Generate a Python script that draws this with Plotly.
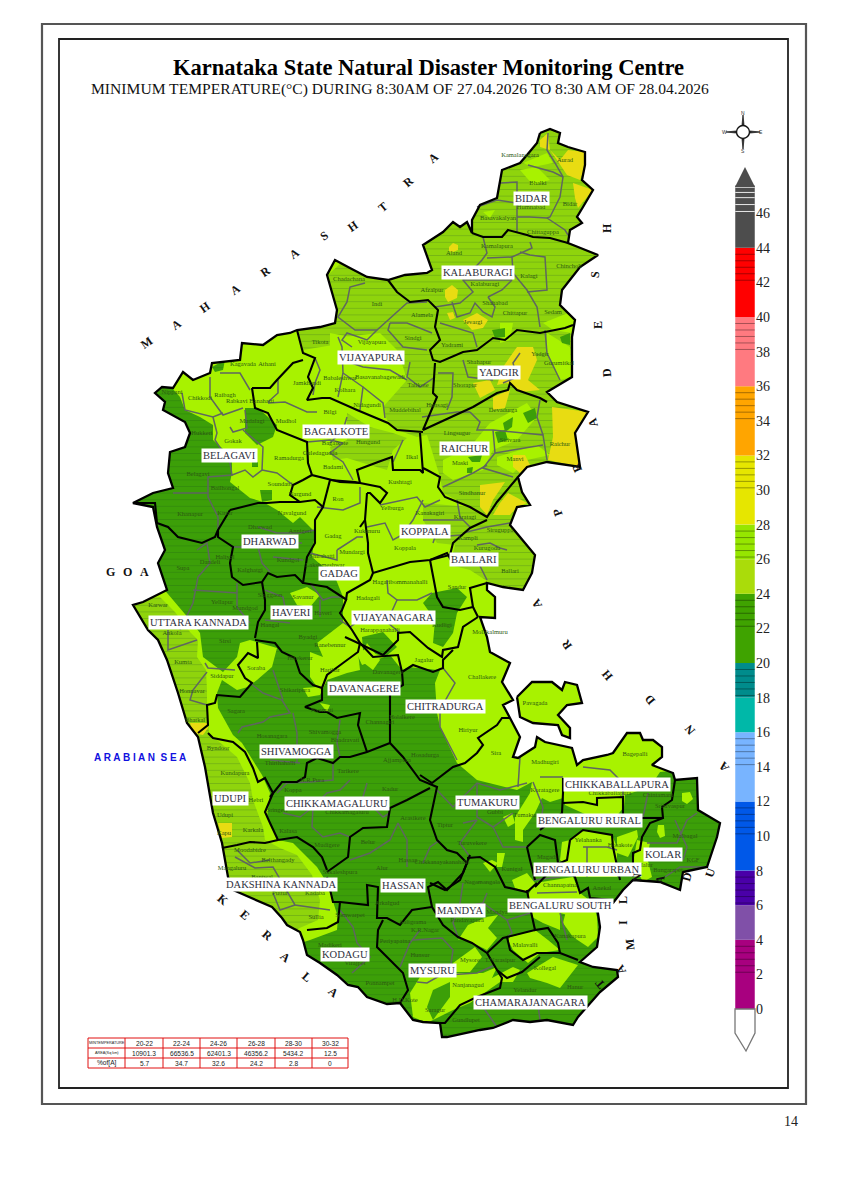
"""
Karnataka minimum temperature map, page 14 of the KSNDMC bulletin.
Outlines are digitised in page pixels, so the main axes run over the page.
"""

import plotly.graph_objects as go

SERIF = "Liberation Serif"
SANS = "Liberation Sans"

LIME = "#a8f200"
HATCH_GREEN = "#8fd40c"
DARK_GREEN = "#3c9f08"
YELLOW = "#e8dc12"

state_outline = [
    (540,133),(550,129),(560,133),(558,143),(568,147),(585,152),(585,165),(582,180),(593,190),(583,207),
    (577,217),(582,223),(570,230),(568,243),(578,247),(598,255),(580,267),(562,290),(560,305),(575,320),
    (572,337),(572,377),(547,392),(557,402),(588,412),(575,433),(580,467),(547,462),(527,467),(518,477),
    (522,492),(530,505),(517,507),(510,525),(520,537),(535,555),(532,573),(523,590),(503,587),(487,583),
    (487,590),(495,597),(495,618),(480,617),(487,637),(490,652),(510,663),(502,682),(513,700),(503,705),
    (510,718),(520,737),(513,757),(518,758),(535,747),(537,737),(545,742),(572,748),(577,765),(583,760),
    (607,755),(613,753),(627,733),(640,733),(643,740),(653,740),(662,747),(662,757),(652,765),(673,773),
    (675,780),(697,778),(698,810),(720,823),(717,837),(707,867),(683,872),(680,890),(660,882),(633,880),
    (623,890),(613,903),(597,907),(600,927),(597,947),(580,962),(593,967),(617,970),(618,977),(600,992),
    (578,1017),(573,1025),(547,1020),(530,1022),(513,1020),(493,1028),(480,1030),(447,1037),(442,1037),(440,1023),
    (423,1022),(413,1020),(400,1003),(387,1004),(367,997),(358,987),(348,985),(337,975),(320,963),(307,955),
    (303,940),(300,932),(287,925),(282,918),(272,907),(233,890),(228,877),(222,843),(213,813),(205,767),
    (198,737),(187,723),(178,693),(167,660),(158,640),(148,630),(133,605),(143,602),(167,590),(158,563),
    (165,550),(157,527),(153,507),(133,503),(153,493),(173,488),(168,473),(170,452),(185,447),(190,433),
    (185,422),(163,410),(165,402),(155,393),(162,387),(173,388),(183,372),(193,380),(210,373),(212,363),
    (240,360),(242,343),(263,345),(277,335),(290,333),(297,330),(320,327),(335,323),(337,310),(327,275),
    (335,260),(348,267),(367,277),(388,280),(405,275),(427,273),(432,270),(423,245),(443,232),(453,222),
    (460,227),(467,222),(472,233),(472,220),(480,205),(497,198),(502,170),(520,163),(527,155),(537,143),
]
pavagada_outline = [
    (517,697),(532,682),(552,682),(562,690),(565,682),(577,685),(582,703),(567,705),(558,715),(570,728),
    (570,738),(562,735),(558,725),(533,723),(520,717),
]

# 22-24 band, running off the state edge where the mask trims it
dark_main = [
    (100,380),(163,387),(172,388),(180,397),(185,410),(200,417),(213,425),(213,440),(232,457),(232,473),
    (230,482),(250,498),(263,502),(277,510),(293,523),(300,517),(315,532),(312,557),(335,577),(343,597),
    (343,623),(362,665),(390,655),(402,670),(410,667),(440,670),(435,683),(437,713),(440,727),(457,763),
    (477,780),(517,790),(532,782),(563,795),(565,805),(587,815),(615,818),(624,807),(625,795),(650,787),
    (660,772),(680,770),(730,770),(730,1040),(140,1040),(100,620),
]
dark_patches = [
    [(432,593),(457,588),(467,597),(457,613),(453,633),(443,647),(433,643),(435,620),(423,603)],
    [(362,637),(383,632),(397,647),(385,657),(363,650)],
    [(245,408),(258,408),(277,425),(273,437),(257,445),(245,433)],
    [(260,490),(272,490),(272,500),(262,502)],
    [(252,462),(258,462),(258,467),(252,467)],
    [(212,367),(225,360),(223,370),(215,372)],
]
# 26-28 band
hatch_north = [
    (298,330),(303,350),(333,345),(343,337),(380,333),(397,350),(403,367),(407,380),(383,407),(387,420),
    (397,430),(417,437),(427,435),(440,477),(443,493),(470,507),(423,503),(423,520),(437,543),(455,545),
    (450,565),(470,570),(490,583),(530,595),(560,560),(600,450),(620,120),(500,120),(300,300),
]
hatch_hungund = [
    (347,413),(370,427),(393,433),(407,438),(393,450),(387,470),(363,463),(347,458),(333,460),(330,447),(347,440),
]
lime_coast = [
    (100,590),(162,587),(190,620),(200,633),(203,657),(223,672),(237,657),(240,643),(250,640),(277,648),
    (272,667),(257,680),(248,687),(237,690),(222,680),(217,693),(218,708),(233,735),(242,743),(257,767),
    (262,775),(270,793),(267,817),(278,840),(293,843),(317,867),(327,883),(338,917),(337,930),(310,940),
    (295,945),(260,960),(100,900),
]
hatch_coast = [
    (100,600),(160,597),(175,612),(190,632),(198,640),(197,657),(206,670),(207,690),(207,707),(209,733),
    (217,740),(237,757),(250,783),(253,800),(263,827),(265,840),(280,848),(297,855),(312,875),(320,900),
    (318,920),(295,930),(270,930),(180,900),(100,800),
]
# 24-26 band lying over the darker zones
lime_patches = [
    [(290,593),(307,587),(320,595),(310,607),(297,605)],
    [(343,623),(317,643),(323,657),(310,652),(310,677),(317,687),(303,688),(308,697),(320,695),(327,680),
     (347,673),(360,670),(358,652),(360,637),(347,620),(350,600)],
    [(367,643),(380,660),(373,670),(360,660)],
    [(400,637),(410,633),(440,657),(440,670),(410,667),(402,657)],
    [(320,703),(330,705),(327,712)],
    [(503,817),(512,813),(515,823),(508,827)],
    [(532,782),(563,788),(563,798),(550,802),(542,798),(535,813),(523,830),(523,842),(515,840),(515,817),(530,793)],
    [(562,842),(570,840),(583,830),(612,835),(617,847),(617,877),(573,877),(573,870),(560,860)],
    [(535,883),(573,877),(580,893),(593,903),(597,917),(587,920),(560,913),(560,930),(543,923),(532,917),(527,897)],
    [(567,907),(597,917),(598,937),(588,947),(573,937),(563,923)],
    [(512,880),(527,873),(535,883),(527,892),(515,888)],
    [(483,863),(492,860),(498,863),(490,872)],
    [(497,853),(505,853),(502,867),(497,867)],
    [(458,940),(468,925),(487,917),(498,915),(488,928),(497,938),(487,950),(473,943),(462,938)],
    [(510,937),(535,930),(548,940),(560,950),(540,953),(528,963),(513,950),(508,940)],
    [(527,973),(553,957),(578,965),(560,988),(547,983),(530,978)],
    [(410,993),(420,977),(453,973),(483,973),(497,967),(492,978),(513,967),(520,970),(513,982),(500,982),
     (470,1003),(453,1010),(427,1023),(413,1017)],
    [(453,963),(475,947),(482,957),(470,972),(455,972)],
    [(637,840),(650,843),(647,857),(652,877),(643,882),(633,863)],
    [(617,837),(637,830),(638,837),(628,857),(617,853)],
    [(682,793),(690,792),(693,799),(687,804),(682,801)],
    [(658,825),(664,825),(665,836),(660,838),(657,832)],
    # northern pockets
    [(443,460),(470,447),(490,423),(527,403),(537,417),(517,440),(493,450),(483,470),(453,480),(443,473)],
    [(497,457),(537,445),(550,455),(527,460),(513,473),(497,465)],
    [(500,323),(513,323),(510,340),(500,343)],
    [(543,323),(568,313),(575,320),(572,333),(553,330)],
    [(547,333),(570,347),(572,377),(560,380),(547,353)],
    [(520,170),(537,167),(550,180),(533,185)],
    [(523,163),(547,153),(553,163),(533,167)],
    [(330,333),(350,337),(340,353),(330,350)],
    [(483,212),(495,210),(490,218)],
]
dark_late = [
    [(427,1007),(433,990),(450,982),(450,997),(433,1020)],
    [(503,423),(513,417),(512,427),(505,432)],
    [(523,413),(535,408),(537,418),(528,423)],
    [(495,432),(505,430),(508,440),(498,443)],
    [(468,457),(482,455),(480,462),(472,462)],
    [(467,468),(473,467),(472,473),(467,473)],
    [(492,330),(505,328),(505,337),(495,338)],
    [(560,337),(570,333),(570,345),(562,343)],
]
yellow_patches = [
    [(190,723),(207,723),(208,728),(203,735),(193,733)],
    [(218,823),(232,823),(232,837),(222,838)],
    [(540,140),(548,133),(550,150),(560,160),(568,150),(585,152),(585,167),(580,180),(567,175),(557,160),(550,150),(540,147)],
    [(573,183),(593,190),(578,208),(575,198)],
    [(449,247),(453,243),(458,245),(458,250),(453,252),(449,251)],
    [(445,290),(452,285),(458,290),(457,298),(448,302),(445,297)],
    [(447,313),(453,312),(455,318),(450,320)],
    [(463,320),(477,313),(488,320),(483,328),(472,330)],
    [(503,367),(517,347),(533,347),(537,360),(528,380),(540,390),(520,392),(507,383),(497,385)],
    [(473,383),(490,380),(495,390),(480,398)],
    [(493,397),(510,390),(505,408),(493,410)],
    [(552,407),(588,412),(575,433),(580,467),(548,460),(553,437)],
    [(513,455),(525,455),(530,465),(520,473),(513,467)],
    [(480,485),(505,482),(493,500),(487,515),(480,507)],
    [(508,493),(527,503),(517,507),(510,515),(493,515),(500,503)],
]

district_borders = [
    [(472,233),(483,237),(502,237),(508,230),(527,235),(533,237),(550,238),(568,243)],
    [(388,280),(397,292),(410,302),(428,300),(438,310),(435,327),(440,340),(430,350),(433,360),(440,362),
     (463,352),(477,350),(493,338),(505,340),(517,330),(540,333),(565,328),(573,325)],
    [(435,363),(433,393),(437,397),(423,430),(473,407),(497,393),(508,390),(510,383),(517,390),(540,398),(547,402)],
    [(297,330),(303,353),(315,358),(308,377),(313,388),(307,400),(322,398),(330,398),(357,410),(388,423),(397,430),(423,432)],
    [(252,388),(270,388),(277,380),(293,363),(303,360)],
    [(252,388),(255,408),(268,413),(277,430),(307,442),(308,463),(312,475),(340,482),(360,483),(357,470),
     (378,462),(392,457),(393,470),(420,470),(423,473),(420,433)],
    [(423,468),(427,470),(440,477),(438,487),(445,497),(470,507),(487,517),(497,502),(518,477)],
    [(487,520),(470,528),(453,543),(450,555),(430,560),(410,562),(373,573),(368,553),(368,543),(365,520),(367,493)],
    [(330,480),(355,482),(380,487),(387,493),(380,503),(370,493),(367,493)],
    [(360,527),(365,520)],
    [(430,560),(447,553),(452,562),(463,562),(455,555),(450,555)],
    [(312,475),(303,480),(293,485),(290,495),(300,502)],
    [(230,510),(258,503),(267,503),(280,502),(300,502),(315,500),(323,507),(315,520),(315,543),(307,557),
     (303,583),(327,587),(347,600)],
    [(323,507),(330,480)],
    [(230,510),(218,530),(218,537),(233,547),(230,563),(232,577),(243,585),(262,582),(268,573),(277,577),(295,575),(303,583)],
    [(133,503),(155,503),(157,523),(168,527),(178,537),(202,543),(215,537),(218,530)],
    [(262,582),(265,600),(265,610),(258,622),(255,638)],
    [(255,640),(275,643),(282,652),(295,658),(300,673),(313,685),(322,688)],
    [(257,642),(258,658),(248,653),(238,665),(245,678),(252,683),(240,697),(217,695),(215,703),(207,705),(208,725),(198,733)],
    [(208,733),(213,738),(233,742),(245,752),(253,768),(258,782),(265,778),(273,793)],
    [(270,797),(282,782),(297,782),(305,777),(307,763),(317,758),(333,763),(340,757),(350,757),(367,752),(390,743)],
    [(273,793),(265,812),(270,823),(278,840)],
    [(222,848),(237,845),(250,842),(265,843),(278,840)],
    [(278,840),(297,837),(313,847),(322,857),(327,870)],
    [(327,872),(348,857),(350,837),(363,828),(387,827),(390,808),(407,800),(430,788)],
    [(327,877),(333,902),(340,902),(368,905),(367,885),(378,887),(377,918),(383,918)],
    [(340,902),(338,922),(327,928),(307,930)],
    [(383,920),(378,930),(377,947),(387,957),(403,973),(408,990),(400,1003)],
    [(377,918),(387,918),(400,925),(412,910),(432,907),(428,887),(438,882),(447,890),(463,873),(470,855)],
    [(420,775),(432,783),(453,767),(465,763),(477,753),(483,745),(478,738),(497,725),(502,718),(510,718)],
    [(390,743),(403,757),(420,780),(437,787),(430,820),(437,840),(447,850),(457,853),(467,863),(460,880),(445,890),(430,883)],
    [(467,858),(480,857),(495,867),(505,887),(527,892),(537,883)],
    [(527,847),(530,860),(535,880)],
    [(527,847),(540,835),(555,840),(558,863),(535,887)],
    [(478,617),(463,627),(458,647),(443,650),(442,657),(428,648),(410,632),(398,633),(398,640),(383,655),(358,643),(345,637)],
    [(430,560),(437,597),(443,607),(460,610),(473,607),(470,588),(487,583)],
    [(473,607),(478,617)],
    [(373,573),(370,580),(347,593),(346,600),(342,610),(340,613),(352,630),(360,643),(358,652),(343,663),(327,675),(322,688)],
    [(360,643),(373,657),(398,655),(402,672),(403,685),(390,693),(390,743)],
    [(402,672),(413,665),(433,672),(443,668),(443,660),(453,650)],
    [(322,688),(322,700),(305,707),(320,712),(327,712),(337,718),(360,713),(358,725),(367,752)],
    [(563,778),(563,793),(562,813),(540,830)],
    [(563,803),(583,802),(597,805),(597,798),(623,797),(623,817),(640,818),(663,818)],
    [(675,780),(672,800),(662,807),(663,818),(650,823),(642,837),(640,850),(633,853),(633,877)],
    [(570,840),(583,830),(612,835),(613,847),(620,880)],
    [(570,840),(567,860),(560,863),(575,877),(580,893),(588,888),(590,898),(613,900)],
    [(527,890),(530,907),(535,930),(548,928),(558,943),(560,953),(578,960)],
    [(432,907),(443,925),(458,937),(472,943),(487,953),(503,938),(507,937),(510,950),(523,960),(537,953),(560,953)],
    [(535,930),(507,937)],
    [(487,953),(497,970),(502,978),(500,988),(477,997),(460,1005),(445,1023),(440,1023)],
    [(497,970),(507,978),(522,972),(540,957)],
]

taluk_borders = [
    [(548,133),(547,150),(555,163),(563,177),(560,197),(550,217),(547,218),(565,230),(568,235)],
    [(528,165),(553,172),(563,177)],
    [(500,183),(517,182),(517,197),(517,232)],
    [(517,217),(530,217),(547,218)],
    [(477,207),(497,200),(517,203)],
    [(483,237),(487,253),(482,260),(463,280),(473,292),(460,303),(435,307)],
    [(530,242),(532,248),(512,257),(513,273),(527,290),(537,307),(540,327)],
    [(487,258),(512,257)],
    [(520,252),(530,255),(545,257),(547,290),(527,292)],
    [(463,280),(512,280)],
    [(488,297),(502,290),(512,280)],
    [(488,297),(495,307),(492,317),(483,312),(475,303),(470,313),(457,317),(452,302)],
    [(440,323),(473,333),(477,347)],
    [(365,283),(350,287),(347,302),(338,317),(355,330),(377,330),(407,303),(427,302)],
    [(390,323),(388,330),(403,347),(427,350)],
    [(390,323),(407,323),(432,333)],
    [(377,330),(367,340),(347,333),(342,340),(352,347)],
    [(410,362),(407,377),(420,387),(435,377)],
    [(463,360),(468,377),(493,380)],
    [(438,373),(453,373),(452,397),(447,410)],
    [(520,353),(513,363),(517,377),(503,383)],
    [(545,330),(547,353),(560,380)],
    [(315,358),(320,370),(315,383),(313,395)],
    [(338,337),(342,347),(343,373),(338,397)],
    [(343,373),(363,387),(360,410)],
    [(363,387),(383,403),(385,418)],
    [(343,360),(363,367),(390,370),(407,380)],
    [(268,403),(285,402),(307,412),(317,412)],
    [(307,442),(330,440),(343,443),(330,453),(343,462),(353,480)],
    [(347,417),(343,430),(330,443)],
    [(403,440),(393,462)],
    [(210,377),(210,397),(223,415),(243,408)],
    [(182,393),(185,410),(213,417),(223,413)],
    [(213,417),(217,433),(215,440),(230,463),(232,475),(208,477),(208,497),(218,517),(218,530)],
    [(173,493),(208,493)],
    [(230,427),(233,432),(247,428),(245,410)],
    [(243,430),(263,447),(262,470),(253,477),(245,470),(232,475)],
    [(262,470),(277,473),(293,485)],
    [(250,390),(240,373),(220,373)],
    [(278,380),(278,393),(268,402)],
    [(317,507),(343,510),(360,503),(360,487)],
    [(337,550),(357,537),(363,537)],
    [(337,550),(337,560),(310,553)],
    [(258,527),(277,533),(300,533),(315,530)],
    [(258,547),(262,563),(270,572)],
    [(233,547),(258,547),(277,543),(302,543)],
    [(273,557),(303,560)],
    [(197,550),(207,543),(210,563),(198,577),(193,603),(180,630)],
    [(237,583),(237,607),(250,623)],
    [(193,590),(237,593)],
    [(265,590),(283,597),(287,617)],
    [(265,620),(290,623)],
    [(310,583),(323,600),(332,597),(343,597)],
    [(320,600),(320,617)],
    [(168,630),(168,650),(197,640)],
    [(205,663),(208,668),(235,670)],
    [(207,672),(193,690),(190,700),(207,705)],
    [(250,683),(263,693),(282,700),(290,713),(270,717),(263,722),(242,727),(238,733)],
    [(273,670),(283,700)],
    [(293,713),(297,733),(297,763)],
    [(270,760),(300,763)],
    [(340,720),(337,743),(340,757)],
    [(333,763),(333,780),(310,782),(287,783),(277,793)],
    [(350,780),(340,790),(327,793),(313,807),(312,827),(323,837),(340,833),(350,837)],
    [(367,783),(363,797),(383,817),(390,813)],
    [(283,813),(300,817),(313,807)],
    [(350,860),(370,853),(390,840),(398,823),(407,840),(407,867)],
    [(423,863),(430,847),(440,840)],
    [(237,850),(250,863),(270,860)],
    [(235,857),(255,868),(273,867),(295,905),(330,910)],
    [(295,905),(280,910),(273,893)],
    [(340,910),(353,927),(357,943),(370,957),(352,973)],
    [(420,930),(410,943),(400,967)],
    [(413,940),(442,938),(453,950),(450,970),(427,983),(417,982)],
    [(447,975),(477,973),(495,965)],
    [(483,1007),(497,1027)],
    [(537,997),(540,1020)],
    [(463,883),(460,903),(453,923),(458,937)],
    [(487,893),(483,903),(507,920),(530,913)],
    [(483,903),(463,907)],
    [(507,920),(512,933),(507,937)],
    [(437,790),(453,807),(477,783),(500,790),(527,783)],
    [(477,783),(477,817),(493,827),(513,813)],
    [(463,823),(477,820),(460,843),(470,857)],
    [(493,827),(503,847),(527,847)],
    [(540,777),(563,777)],
    [(533,782),(543,807),(540,830)],
    [(520,757),(518,787)],
    [(583,767),(610,770),(623,783),(623,797)],
    [(648,793),(643,817)],
    [(675,820),(687,847),(683,860)],
    [(647,843),(677,843),(687,820),(697,813)],
    [(665,877),(680,867),(707,867)],
    [(583,847),(607,847),(617,850)],
    [(587,847),(587,877)],
    [(533,880),(560,877)],
    [(537,893),(577,892)],
    [(560,913),(567,940)],
    [(443,668),(455,683),(440,710),(440,727),(457,760)],
    [(420,713),(440,710)],
    [(463,533),(487,527),(510,523)],
    [(477,545),(490,543),(500,548),(507,550)],
    [(477,560),(487,580)],
    [(387,580),(388,593),(397,600),(387,622),(400,633)],
    [(397,600),(417,600),(432,593)],
    [(340,620),(350,627),(360,620),(387,622)],
    [(367,527),(385,523),(393,540),(402,535),(413,520),(423,500)],
    [(380,505),(417,497),(425,507),(440,500)],
    [(457,500),(460,517),(470,527)],
    [(423,520),(463,520)],
    [(433,543),(435,537),(462,535)],
    [(470,412),(480,422),(477,430),(493,430),(543,435),(547,460)],
    [(540,400),(537,417),(543,435)],
    [(493,430),(495,453),(483,468),(513,477)],
    [(495,453),(543,445)],
    [(443,487),(473,473),(487,465)],
    [(422,417),(457,412),(470,412)],
]

district_names = [
    "BIDAR","KALABURAGI","VIJAYAPURA","YADGIR","BAGALKOTE","RAICHUR","BELAGAVI","KOPPALA","BALLARI",
    "DHARWAD","GADAG","HAVERI","VIJAYANAGARA","UTTARA KANNADA","DAVANAGERE","CHITRADURGA","SHIVAMOGGA",
    "UDUPI","CHIKKAMAGALURU","TUMAKURU","CHIKKABALLAPURA","BENGALURU RURAL","KOLAR","BENGALURU URBAN",
    "DAKSHINA KANNADA","HASSAN","MANDYA","BENGALURU SOUTH","KODAGU","MYSURU","CHAMARAJANAGARA",
]
district_x = [531,478,371,499,336,464,229,425,474,270,339,291,393,198,364,445,296,230,337,487,617,589,663,587,281,403,460,560,345,432,530]
district_y = [198,272,357,372,431,448,455,531,559,541,573,612,617,622,688,706,751,798,803,802,784,820,854,869,884,885,910,905,954,970,1002]

taluk_names = [
    "Aurad","Kamalanagara","Bhalki","Bidar","Humnabad","Basavakalyan","Chittaguppa","Aland","Kamalapura","Kalagi",
    "Chincholi","Afzalpur","Kalaburagi","Shahabad","Chittapur","Sedam","Jevargi","Yadrami","Chadachana","Indi",
    "Alamela","Sindgi","Vijayapura","Babaleshwar","Basavanabagewadi","Talikote","Kolhara","Nidagundi","Muddebihal","Tikota",
    "Shahapur","Shorapur","Yadgir","Gurumitkal","Hunsagi","Devadurga","Raichur","Lingsugur","Sirivara","Maski",
    "Manvi","Kushtagi","Sindhanur","Yelburga","Kukanuru","Koppala","Kanakagiri","Karatagi","Kampli","Siruguppa",
    "Kurugodu","Ballari","Sandur","Kudligi","Hagaribommanahalli","Hadagali","Harappanahalli","Jagalur","Challakere","Molakalmuru",
    "Hiriyur","Sira","Pavagada","Madhugiri","Bagepalli","Koratagere","Tumakuru","Gubbi","Tiptur","Turuvekere",
    "Chikkanayakanahalli","Holalkere","Hosadurga","Channagiri","Davanagere","Harihar","Ranebennur","Byadgi","Hirekerur","Hangal",
    "Haveri","Savanur","Shiggaon","Kalghatgi","Kundgol","Dharwad","Annigeri","Navalgund","Haliyal","Khanapur",
    "Belagavi","Bailhongal","Kittur","Supa","Dandeli","Yellapur","Mundgod","Karwar","Ankola","Kumta",
    "Honnavar","Bhatkal","Siddapur","Sirsi","Soraba","Shikaripura","Sagara","Hosanagara","Shivamogga","Bhadravati",
    "Thirthahalli","Nyamati","Byndoor","Kundapura","Hebri","Udupi","Karkala","Kapu","Moodabidre","Mangaluru",
    "Belthangady","Bantwal","Puttur","Kadaba","Sullia","Sakaleshpura","Alur","Mudigere","Belur","Kalasa",
    "Koppa","Sringeri","Tarikere","Kadur","Chikkamagaluru","Arasikere","Hassan","Arkalgud","Ajjampura","N.R.Pura",
    "Somwarpet","Madikeri","Virajpet","Ponnampet","Periyapatna","Hunsur","K.R.Nagar","Saligrama","Mysore","H.D.Kote",
    "Saragur","Nanjanagud","T.Narasipur","Gundlupet","Yelandur","Kollegal","Hanur","Malavalli","Kanakapura","Mandya",
    "Pandavapura","Nagamangala","Kunigal","Magadi","Yelahanka","Hosakote","Anekal","Channapatna","Malur","Bangarapet",
    "KGF","Mulbagal","Srinivaspur","Chintamani","Chikkaballapura","Nippani","Chikkodi","Raibagh","Kagavada","Athani",
    "Jamkhandi","Rabkavi Banahatti","Mudhol","Bilgi","Bagalkote","Hungund","Guledagudda","Ilkal","Badami","Gokak",
    "Mudalagi","Ramadurga","Soundatti","Nargund","Ron","Gadag","Mundargi","Shirahatti","Hukkeri","Lakshmeshwar",
]
taluk_x = [
    565,520,538,570,531,498,543,454,497,529,
    569,432,485,495,515,553,473,452,349,377,
    422,413,372,340,380,418,345,367,405,320,
    479,465,540,559,437,503,560,457,510,460,
    515,400,472,392,367,405,430,465,468,500,
    487,510,457,442,400,368,380,424,482,490,
    468,496,535,545,635,545,527,495,445,472,
    442,402,425,380,388,330,330,308,300,270,
    323,303,270,250,288,260,300,292,225,190,
    198,225,225,183,210,222,245,158,172,183,
    192,195,222,225,256,295,236,272,325,345,
    280,322,218,235,256,225,253,224,250,232,
    278,262,280,315,316,340,382,327,368,288,
    293,277,348,390,347,413,408,387,397,312,
    350,330,355,380,395,420,425,413,470,405,
    435,468,500,466,525,545,575,525,570,497,
    467,482,512,547,588,620,602,560,645,668,
    693,685,670,658,610,172,200,225,243,267,
    307,250,286,330,335,368,320,412,333,233,
    252,289,280,300,338,333,352,322,202,325,
]
taluk_y = [
    160,155,183,204,207,218,232,253,246,276,
    266,290,284,303,313,312,322,345,279,304,
    315,338,342,378,377,385,390,405,410,342,
    362,385,354,363,405,410,444,433,440,463,
    459,482,493,508,531,548,513,517,538,530,
    548,571,587,625,582,598,630,660,677,632,
    730,753,703,762,754,790,815,812,825,843,
    862,717,755,722,672,670,645,637,658,625,
    613,597,595,570,560,527,531,513,557,514,
    474,488,513,568,562,602,608,605,633,662,
    691,720,676,641,668,690,711,736,732,740,
    763,710,748,773,800,815,830,833,850,868,
    860,877,893,893,917,872,868,845,842,831,
    790,810,771,789,812,818,860,903,760,780,
    915,945,963,983,941,955,930,922,960,1000,
    1010,985,960,1020,990,968,987,945,936,912,
    920,882,869,857,840,845,888,885,865,870,
    860,836,806,795,793,392,398,395,364,364,
    383,401,421,412,443,442,453,457,467,441,
    421,458,484,494,499,536,552,556,433,565,
]

# neighbouring states and sea, letter by letter round the border
neighbour_letters = list("MAHARASHTRA") + list("ANDHRAPRADESH") + list("KERALA") + list("TAMILNADU") + list("GOA")
neighbour_x = [146,176,205,235,265,294,324,353,383,408,433,
               724,690,650,607,567,537,558,577,593,607,598,595,607,
               223,245,267,285,307,333,
               600,621,630,623,623,637,660,687,710,
               110,127,144]
neighbour_y = [343,325,307,290,272,254,236,226,207,182,158,
               767,730,700,675,645,604,513,468,423,373,325,275,228,
               900,915,935,957,977,992,
               984,970,945,923,900,878,880,877,873,
               572,572,572]
neighbour_angle = [-35,-35,-35,-35,-35,-35,-35,-35,-40,-40,-40,
                   -130,-130,-130,-130,-125,-120,-110,-115,-105,-95,-90,-85,-90,
                   40,40,40,40,40,40,
                   -130,-120,-95,-90,-90,-85,-80,-75,-70,
                   0,0,0]

# colour scale
band_low = [0,4,6,8,12,16,18,20,24,26,28,32,36,40,44]
band_high = [4,6,8,12,16,18,20,24,26,28,32,36,40,44,47.6]
band_colors = ["#a8007f","#8050a8","#4a00a8","#0058e8","#78b4ff","#00b8a8","#008c8c","#3fa300",
               "#aadc0a","#96e600","#e6e600","#ffa500","#ff7a80","#ff0000","#4d4d4d"]
hatched_tops = [4,8,12,16,20,24,28,32,36,40,44]
scale_ticks = list(range(0, 48, 2))

# area table
table_head = ["MINTEMPERATURE","20-22","22-24","24-26","26-28","28-30","30-32"]
table_area = ["AREA(Sq km)","10901.3","66536.5","62401.3","46356.2","5434.2","12.5"]
table_pct = ["%of[A]","5.7","34.7","32.6","24.2","2.8","0"]
table_col_edges = [88,125,163,200,237,275,312,348]
table_row_edges = [1038,1048,1058,1068]


def xs(points):
    return [p[0] for p in points] + [points[0][0]]


def ys(points):
    return [p[1] for p in points] + [points[0][1]]


def add_zone(fig, points, color, hatch=None):
    kwargs = {}
    if hatch:
        kwargs["fillpattern"] = dict(shape="-", size=6.6, solidity=0.15, fgcolor=hatch, bgcolor=color)
    fig.add_trace(go.Scatter(x=xs(points), y=ys(points), mode="none", fill="toself", fillcolor=color,
                             hoverinfo="skip", **kwargs))


def add_lines(fig, rows, color, width):
    lx, ly = [], []
    for row in rows:
        lx += [p[0] for p in row] + [None]
        ly += [p[1] for p in row] + [None]
    fig.add_trace(go.Scatter(x=lx, y=ly, mode="lines", line=dict(color=color, width=width, simplify=False),
                             hoverinfo="skip"))


fig = go.Figure()

# state base and temperature zones
add_zone(fig, state_outline, LIME)
add_zone(fig, pavagada_outline, LIME)
add_zone(fig, hatch_north, HATCH_GREEN, "#5f9a1a")
add_zone(fig, hatch_hungund, HATCH_GREEN, "#5f9a1a")
add_zone(fig, dark_main, DARK_GREEN, "#2b7d10")
for patch in dark_patches:
    add_zone(fig, patch, DARK_GREEN, "#2b7d10")
add_zone(fig, lime_coast, LIME)
add_zone(fig, hatch_coast, HATCH_GREEN, "#5f9a1a")
for patch in lime_patches:
    add_zone(fig, patch, LIME)
for patch in dark_late:
    add_zone(fig, patch, DARK_GREEN)
for patch in yellow_patches:
    add_zone(fig, patch, YELLOW)

# white sheet with the state cut out, trims everything to the border;
# the rings run against the sheet so they stay open under the fill rule
sheet = [(60, 100), (733, 100), (733, 1045), (60, 1045), (60, 100)]
state_hole = state_outline[::-1]
pavagada_hole = pavagada_outline[::-1]
mask_x = [p[0] for p in sheet] + xs(state_hole) + [60] + xs(pavagada_hole) + [60]
mask_y = [p[1] for p in sheet] + ys(state_hole) + [100] + ys(pavagada_hole) + [100]
fig.add_trace(go.Scatter(x=mask_x, y=mask_y, mode="none", fill="toself", fillcolor="white", hoverinfo="skip"))

add_lines(fig, taluk_borders, "#5f6660", 1.5)
add_lines(fig, district_borders, "#000000", 2.1)
add_lines(fig, [state_outline + state_outline[:1], pavagada_outline + pavagada_outline[:1]], "#000000", 2.3)

fig.add_trace(go.Scatter(x=taluk_x, y=taluk_y, mode="text", text=taluk_names, hoverinfo="skip",
                         textfont=dict(family=SERIF, size=6.5, color="#2c5a12")))

# colour scale, on its own temperature axis
fig.add_trace(go.Bar(x=[745] * len(band_low), y=[h - l for l, h in zip(band_low, band_high)], base=band_low,
                     width=19.5, yaxis="y2", marker=dict(color=band_colors, line=dict(width=0)), hoverinfo="skip"))
for top in hatched_tops:
    for k in range(1, 6):
        t = top - 0.375 * k
        fig.add_trace(go.Scatter(x=[735.2, 754.8], y=[t, t], yaxis="y2", mode="lines", hoverinfo="skip",
                                 line=dict(color="rgba(0,0,0,0.35)", width=1)))
for t in [46.1, 46.5, 46.9, 47.2, 47.5]:
    fig.add_trace(go.Scatter(x=[735.2, 754.8], y=[t, t], yaxis="y2", mode="lines", hoverinfo="skip",
                             line=dict(color="#e8e8e8", width=1)))

# area table text
for row, y_top, y_bot in zip([table_head, table_area, table_pct], table_row_edges[:-1], table_row_edges[1:]):
    for i, value in enumerate(row):
        small = i == 0 and row is not table_pct
        fig.add_annotation(x=(table_col_edges[i] + table_col_edges[i + 1]) / 2, y=(y_top + y_bot) / 2, text=value,
                           showarrow=False, font=dict(family=SANS, size=3.8 if small else 6.6, color="#222"))

shapes = [
    dict(type="rect", x0=42, y0=24, x1=806, y1=1104, line=dict(color="#555555", width=2.2)),
    dict(type="rect", x0=59, y0=39, x1=788, y1=1088, line=dict(color="#222222", width=1.8)),
    # scale tip and foot
    dict(type="path", path="M735,187 L745,167 L755,187 Z", fillcolor="#4d4d4d", line=dict(width=0)),
    dict(type="path", path="M735,1009 L735,1033 L746,1051 L755,1033 L755,1009 Z", fillcolor="white",
         line=dict(color="#777777", width=1.3)),
    # compass
    dict(type="circle", x0=736.5, y0=125.5, x1=749.5, y1=138.5, fillcolor="white", line=dict(color="#111", width=1.4)),
    dict(type="path", path="M742,125 L743,115 L744,125 Z M742,139 L743,149 L744,139 Z M736,131 L726,132 L736,133 Z M750,131 L760,132 L750,133 Z",
         fillcolor="#222", line=dict(color="#222", width=0.8)),
]
for x in table_col_edges:
    shapes.append(dict(type="line", x0=x, x1=x, y0=table_row_edges[0], y1=table_row_edges[-1],
                       line=dict(color="#e01010", width=1)))
for y in table_row_edges:
    shapes.append(dict(type="line", x0=table_col_edges[0], x1=table_col_edges[-1], y0=y, y1=y,
                       line=dict(color="#e01010", width=1)))
fig.update_layout(shapes=shapes)

for name, x, y in zip(district_names, district_x, district_y):
    fig.add_annotation(x=x, y=y, text=name, showarrow=False, bgcolor="white", borderpad=1,
                       font=dict(family=SERIF, size=10.5, color="#303040"))
for letter, x, y, angle in zip(neighbour_letters, neighbour_x, neighbour_y, neighbour_angle):
    fig.add_annotation(x=x, y=y, text=f"<b>{letter}</b>", textangle=angle, showarrow=False,
                       font=dict(family=SERIF, size=12, color="#111"))
fig.add_annotation(x=140, y=757, text="<b>A R A B I A N  S E A</b>", showarrow=False,
                   font=dict(family=SANS, size=10, color="#1010e0"))
fig.add_annotation(x=428, y=67, text="<b>Karnataka State Natural Disaster Monitoring Centre</b>", showarrow=False,
                   font=dict(family=SERIF, size=22.5, color="#000"))
fig.add_annotation(x=400, y=89, text="MINIMUM TEMPERATURE(°C) DURING 8:30AM OF 27.04.2026 TO 8:30 AM OF 28.04.2026",
                   showarrow=False, font=dict(family=SERIF, size=15.6, color="#111"))
fig.add_annotation(x=791, y=1121, text="14", showarrow=False, font=dict(family=SERIF, size=14, color="#222"))
for letter, x, y in [("N", 743, 113), ("S", 743, 151), ("W", 724, 132), ("E", 761, 132)]:
    fig.add_annotation(x=x, y=y, text=letter, showarrow=False, font=dict(family=SANS, size=5, color="#333"))

# the page body keeps 8px margins, so the plot covers 8..841 by 8..1192
fig.update_layout(
    width=833,
    height=1184,
    margin=dict(l=0, r=0, t=0, b=0),
    paper_bgcolor="white",
    plot_bgcolor="white",
    showlegend=False,
    barmode="overlay",
    xaxis=dict(range=[8, 841], visible=False, fixedrange=True),
    yaxis=dict(range=[1192, 8], visible=False, fixedrange=True),
    yaxis2=dict(
        overlaying="y", anchor="free", position=(755 - 8) / 833, side="right",
        range=[(1009 - 1192) / 17.3, (1009 - 8) / 17.3], tickvals=scale_ticks, showgrid=False, zeroline=False,
        showline=False, ticks="", tickfont=dict(family=SERIF, size=14, color="#222"), fixedrange=True,
    ),
)

fig.write_html("out.html")
